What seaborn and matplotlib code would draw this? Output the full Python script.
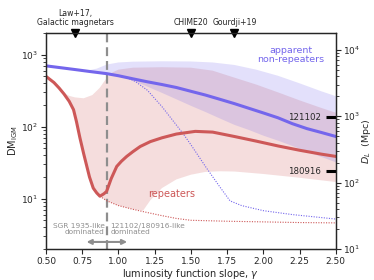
import matplotlib
matplotlib.use("Agg")
import matplotlib.pyplot as plt
import matplotlib.transforms as mtransforms
import numpy as np
import pandas as pd
import seaborn as sns

BLUE = "#7466ec"
RED = "#cd5858"
GREY = "#8e8e8e"

# apparent non-repeaters: median DM_IGM vs gamma
blue_x = [0.50, 0.60, 0.70, 0.80, 0.92, 1.00, 1.10, 1.20, 1.30, 1.40, 1.50, 1.60, 1.70,
          1.80, 1.90, 2.00, 2.10, 2.20, 2.30, 2.40, 2.50]
blue_dm = [700, 660, 622, 585, 545, 510, 462, 420, 385, 350, 310, 275, 240,
           209, 180, 155, 133, 110, 94, 83, 73]
blue_hi_x = [0.50, 0.60, 0.70, 0.78, 0.85, 0.92, 1.00, 1.10, 1.30, 1.50, 1.65, 1.80,
             1.95, 2.10, 2.25, 2.40, 2.50]
blue_hi = [700, 660, 625, 600, 640, 730, 780, 800, 810, 805, 780, 720,
           620, 510, 400, 310, 265]
blue_lo_x = [0.50, 0.70, 0.92, 1.00, 1.10, 1.20, 1.30, 1.40, 1.50, 1.60, 1.70, 1.80,
             1.90, 2.00, 2.10, 2.20, 2.30, 2.40, 2.50]
blue_lo = [700, 622, 545, 500, 440, 360, 295, 240, 195, 160, 130, 106,
           90, 75, 64, 54, 45, 38, 32]
blue_dot_x = [0.92, 1.00, 1.06, 1.12, 1.20, 1.30, 1.40, 1.45, 1.50, 1.60, 1.70, 1.77,
              1.85, 2.00, 2.20, 2.50]
blue_dot = [545, 515, 480, 420, 320, 190, 105, 78, 56, 28, 14.5, 9.3,
            8.0, 6.8, 6.0, 5.2]

# repeaters
red_x = [0.50, 0.555, 0.59, 0.624, 0.66, 0.69, 0.71, 0.734, 0.76, 0.78, 0.80, 0.826,
         0.85, 0.872, 0.90, 0.918, 0.95, 0.988, 1.02, 1.057, 1.10, 1.15, 1.22, 1.30,
         1.40, 1.53, 1.65, 1.80, 1.95, 2.10, 2.25, 2.40, 2.50]
red_dm = [500, 410, 345, 285, 225, 172, 118, 70, 42, 29, 20, 14,
          12, 10.8, 11.7, 12.6, 19, 28, 33, 38.6, 45, 53, 62, 70,
          79, 86, 84, 73, 63, 54, 47, 41.5, 38.6]
red_hi_x = [0.50, 0.555, 0.59, 0.62, 0.66, 0.70, 0.76, 0.82, 0.87, 0.92, 0.96, 1.00,
            1.10, 1.30, 1.50, 1.65, 1.80, 1.95, 2.10, 2.25, 2.40, 2.50]
red_hi = [500, 410, 335, 298, 268, 255, 248, 275, 345, 480, 570, 620,
          660, 670, 660, 600, 480, 385, 300, 232, 182, 156]
red_lo_x = [0.872, 0.92, 1.00, 1.10, 1.17, 1.22, 1.30, 1.40, 1.50, 1.60, 1.70, 1.80,
            2.00, 2.25, 2.50]
red_lo = [10.8, 9.3, 8.0, 7.1, 6.8, 9.5, 14, 18.5, 21.5, 23.5, 24, 23.8,
          22, 19.5, 17]
red_dot_x = [0.872, 0.92, 1.00, 1.10, 1.20, 1.30, 1.40, 1.50, 1.75, 2.00, 2.25, 2.50]
red_dot = [10.8, 9.3, 8.0, 7.1, 6.4, 5.8, 5.3, 5.0, 4.85, 4.75, 4.65, 4.6]

gamma_split = 0.918
top_refs = [0.70, 1.50, 1.80]
top_labels = ["Law+17,\nGalactic magnetars", "CHIME20", "Gourdji+19"]
frb_names = ["121102", "180916"]
frb_dl = [972, 149]


def band_polygon(hi_x, hi, lo_x, lo):
    xs = list(hi_x) + list(lo_x)[::-1]
    ys = list(hi) + list(lo)[::-1]
    return xs, ys


def main() -> None:
    sns.set_style("ticks")
    plt.rcParams["font.family"] = ["DejaVu Sans"]

    fig = plt.figure(figsize=(3.74, 2.80), dpi=100)
    ax = fig.add_axes([0.123, 0.111, 0.775, 0.771])

    # red band: lower edge follows the median down to its minimum, then the floor
    low_part = [(x, y) for x, y in zip(red_x, red_dm) if x < red_lo_x[0]]
    rl_x = [p[0] for p in low_part] + red_lo_x
    rl = [p[1] for p in low_part] + red_lo
    xs, ys = band_polygon(red_hi_x, red_hi, rl_x, rl)
    ax.fill(xs, ys, color=RED, alpha=0.2, lw=0)

    xs, ys = band_polygon(blue_hi_x, blue_hi, blue_lo_x, blue_lo)
    ax.fill(xs, ys, color=BLUE, alpha=0.2, lw=0)

    sns.lineplot(x=blue_dot_x, y=blue_dot, ax=ax, color=BLUE, lw=0.8, ls=(0, (1, 1.3)))
    sns.lineplot(x=red_dot_x, y=red_dot, ax=ax, color=RED, lw=0.8, ls=(0, (1, 1.3)))
    sns.lineplot(x=blue_x, y=blue_dm, ax=ax, color=BLUE, lw=2.2)
    sns.lineplot(x=red_x, y=red_dm, ax=ax, color=RED, lw=2.2)

    ax.axvline(gamma_split, color=GREY, ls=(0, (4, 2.2)), lw=1.6, zorder=1)

    ax.set_yscale("log")
    ax.set_xlim(0.5, 2.5)
    ax.set_ylim(2, 2000)
    ax.set_xticks(np.arange(0.5, 2.51, 0.25))
    ax.set_xticklabels([f"{t:.2f}" for t in np.arange(0.5, 2.51, 0.25)])
    ax.tick_params(labelsize=6.5, length=3.5, width=0.8, pad=2)
    ax.tick_params(which="minor", length=2, width=0.6)
    ax.set_xlabel("luminosity function slope, $\\gamma$", fontsize=7, labelpad=1)
    ax.set_ylabel("DM$_{\\rm IGM}$", fontsize=7, labelpad=1)

    ax.text(1.365, 11.5, "repeaters", color=RED, fontsize=7, ha="center", va="center")
    ax.text(2.19, 1000, "apparent\nnon-repeaters", color=BLUE, fontsize=6.8,
            ha="center", va="center", linespacing=1.05)

    # gamma regimes
    ax.annotate("", xy=(0.78, 2.5), xytext=(1.06, 2.5),
                arrowprops=dict(arrowstyle="<|-|>", color=GREY, lw=1.5, mutation_scale=7,
                                shrinkA=0, shrinkB=0))
    ax.text(0.905, 3.75, "SGR 1935-like\ndominated", color=GREY, fontsize=5.3,
            ha="right", va="center", linespacing=1.0)
    ax.text(0.945, 3.75, "121102/180916-like\ndominated", color=GREY, fontsize=5.3,
            ha="left", va="center", linespacing=1.0)

    # literature slopes on the top axis
    trans = mtransforms.blended_transform_factory(ax.transData, ax.transAxes)
    ax.plot(top_refs, [1.0] * len(top_refs), "v", color="black", ms=5.5,
            transform=trans, clip_on=False, zorder=5)
    for xr, lab in zip(top_refs, top_labels):
        ax.text(xr, 1.03, lab, transform=trans, fontsize=5.6, ha="center", va="bottom",
                linespacing=1.0)

    ax2 = ax.twinx()
    ax2.set_yscale("log")
    ax2.set_ylim(10, 1.8e4)
    ax2.tick_params(labelsize=6.5, length=3.5, width=0.8, pad=1.5)
    ax2.tick_params(which="minor", length=2, width=0.6)
    ax2.set_ylabel("$D_L$  (Mpc)", fontsize=6.8, labelpad=0)
    trans2 = mtransforms.blended_transform_factory(ax2.transAxes, ax2.transData)
    for name, dl in zip(frb_names, frb_dl):
        ax2.plot([0.965, 1.0], [dl, dl], color="black", lw=2.2, transform=trans2,
                 solid_capstyle="butt", clip_on=False)
        ax2.text(0.95, dl, name, transform=trans2, fontsize=6.2, ha="right", va="center")

    for a in (ax, ax2):
        for s in a.spines.values():
            s.set_linewidth(0.9)

    fig.savefig("out.png", dpi=100)
    plt.close(fig)


if __name__ == "__main__":
    main()
